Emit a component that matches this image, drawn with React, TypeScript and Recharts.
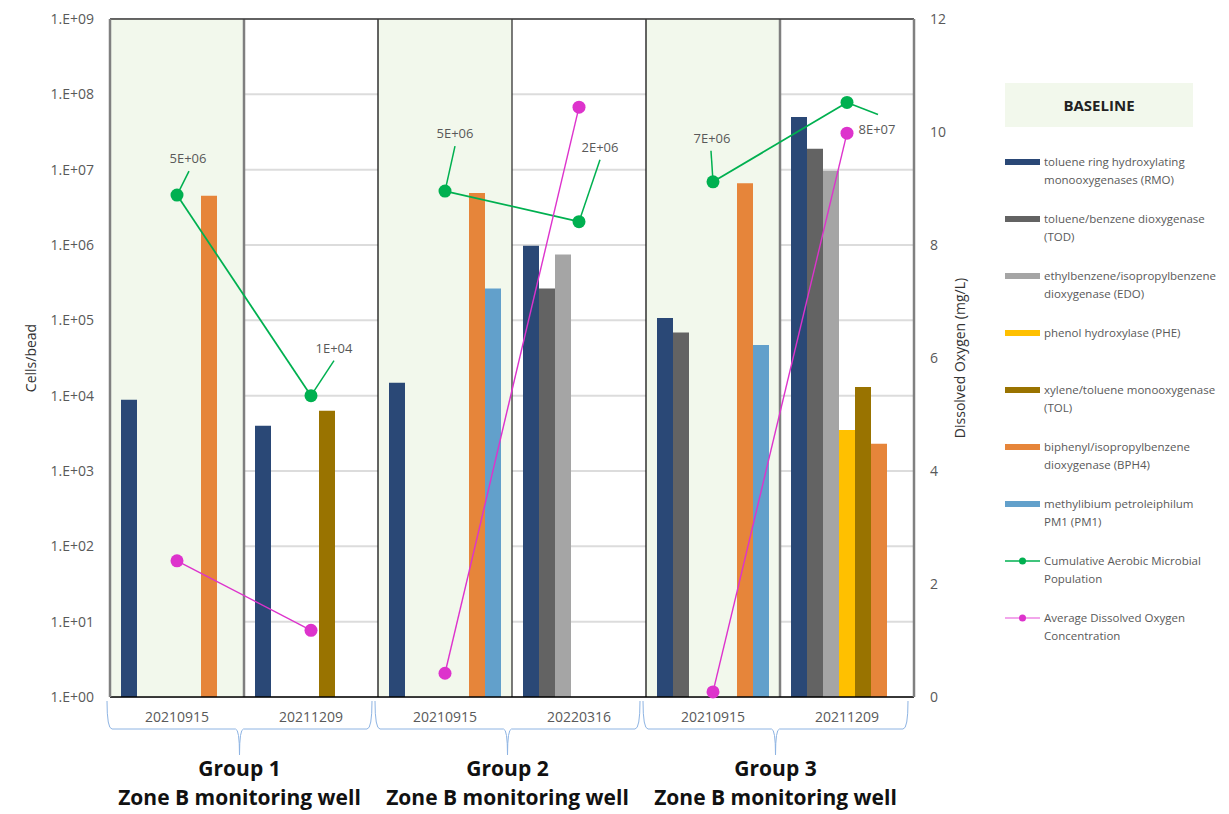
import {
  Bar,
  CartesianGrid,
  ComposedChart,
  LabelList,
  Line,
  ReferenceArea,
  ReferenceLine,
  XAxis,
  YAxis,
} from 'recharts';

const categories = ['g1-20210915', 'g1-20211209', 'g2-20210915', 'g2-20220316', 'g3-20210915', 'g3-20211209'];
const dates = ['20210915', '20211209', '20210915', '20220316', '20210915', '20211209'];
const groupOf = [0, 0, 1, 1, 2, 2];
const groupNames = ['Group 1', 'Group 2', 'Group 3'];
const baselineCats = [0, 2, 4];

// cells/bead
const rmo = [8800, 4000, 14800, 980000, 107000, 50000000];
const tod = [null, null, null, 264000, 69000, 19000000];
const edo = [null, null, null, 750000, null, 9700000];
const phe = [null, null, null, null, null, 3500];
const tol = [null, 6300, null, null, null, 13000];
const bph4 = [4500000, null, 4900000, null, 6600000, 2300];
const pm1 = [null, null, 264000, null, 47000, null];
const cumulative = [4600000, 10000, 5200000, 2040000, 6900000, 78000000];
// mg/L
const dissolvedO2 = [2.41, 1.18, 0.42, 10.44, 0.09, 9.98];

const logTicks = [1, 10, 100, 1e3, 1e4, 1e5, 1e6, 1e7, 1e8, 1e9];
const doTicks = [0, 2, 4, 6, 8, 10, 12];

const FONT = '"Open Sans", "Liberation Sans", sans-serif';
const GREEN = '#00b050';
const MAGENTA = '#dd33cc';
const TEXT = '#595959';

const barSeries = [
  { key: 'rmo', values: rmo, color: '#2a4876', name: ['toluene ring hydroxylating', 'monooxygenases (RMO)'] },
  { key: 'tod', values: tod, color: '#636363', name: ['toluene/benzene dioxygenase', '(TOD)'] },
  { key: 'edo', values: edo, color: '#a5a5a5', name: ['ethylbenzene/isopropylbenzene', 'dioxygenase (EDO)'] },
  { key: 'phe', values: phe, color: '#ffc000', name: ['phenol hydroxylase (PHE)'] },
  { key: 'tol', values: tol, color: '#997300', name: ['xylene/toluene monooxygenase', '(TOL)'] },
  { key: 'bph4', values: bph4, color: '#e6853a', name: ['biphenyl/isopropylbenzene', 'dioxygenase (BPH4)'] },
  { key: 'pm1', values: pm1, color: '#62a0cb', name: ['methylibium petroleiphilum', 'PM1 (PM1)'] },
];

const W = 1229;
const H = 814;
const MARGIN = { top: 19, right: 255, bottom: 0, left: 20 };
const LEFT_AXIS_W = 90;
const RIGHT_AXIS_W = 60;
const X_AXIS_H = 117;
const PLOT_W = W - MARGIN.left - MARGIN.right - LEFT_AXIS_W - RIGHT_AXIS_W;
const BAND = PLOT_W / categories.length;

// leader line end and label centre, relative to each green point
const labelOffsets = [
  { lx: 12, ly: -24, tx: 11, ty: -37 },
  { lx: 23, ly: -35, tx: 23, ty: -48 },
  { lx: 10, ly: -45, tx: 10, ty: -58 },
  { lx: 21, ly: -62, tx: 21, ty: -75 },
  { lx: -2, ly: -31, tx: -1, ty: -44 },
  { lx: 31, ly: 12, tx: 30, ty: 27 },
];

const chartData = categories.map((id, i) => {
  const row: Record<string, any> = { id };
  barSeries.forEach((s) => {
    row[s.key] = s.values[i];
  });
  groupNames.forEach((_g, g) => {
    row[`cum${g}`] = groupOf[i] === g ? cumulative[i] : null;
    row[`do${g}`] = groupOf[i] === g ? dissolvedO2[i] : null;
  });
  return row;
});

const fmtSci = (v: number) => {
  let e = Math.floor(Math.log10(v));
  let m = Math.round(v / Math.pow(10, e));
  if (m === 10) {
    m = 1;
    e += 1;
  }
  return `${m}E+${String(e).padStart(2, '0')}`;
};

const renderCumLabel = (props: any) => {
  const { x, y, value, index } = props;
  if (value == null || x == null || y == null) return null;
  const o = labelOffsets[index];
  return (
    <g>
      <line x1={x} y1={y} x2={x + o.lx} y2={y + o.ly} stroke={GREEN} strokeWidth={1.5} />
      <text x={x + o.tx} y={y + o.ty + 5} textAnchor='middle' fontSize={13} fill={TEXT} fontFamily={FONT}>
        {fmtSci(value)}
      </text>
    </g>
  );
};

const renderDateTick = (props: any) => {
  const { x, y, payload } = props;
  const i = categories.indexOf(payload.value);
  const first = i === 0 || groupOf[i - 1] !== groupOf[i];
  const xl = x - BAND / 2 - 3;
  const xr = x + BAND * 1.5 - 6;
  const mid = (xl + xr) / 2;
  const by = y + 32;
  return (
    <g>
      <text x={x} y={y + 25} textAnchor='middle' fontSize={14} fill={TEXT} fontFamily={FONT}>
        {dates[i]}
      </text>
      {first && (
        <g>
          <path
            d={`M${xl},${y + 4} Q${xl},${by} ${xl + 5},${by} L${mid - 4},${by} Q${mid},${by} ${mid},${y + 58} Q${mid},${by} ${mid + 4},${by} L${xr - 5},${by} Q${xr},${by} ${xr},${y + 4}`}
            fill='none'
            stroke='#8eb4e3'
            strokeWidth={1}
          />
          <text x={mid} y={y + 79} textAnchor='middle' fontSize={21} fontWeight='bold' fill='#111' fontFamily={FONT}>
            {groupNames[groupOf[i]]}
          </text>
          <text x={mid} y={y + 108} textAnchor='middle' fontSize={21} fontWeight='bold' fill='#111' fontFamily={FONT}>
            Zone B monitoring well
          </text>
        </g>
      )}
    </g>
  );
};

const separators = [
  { cat: 1, stroke: '#7f7f7f', width: 2.5 },
  { cat: 2, stroke: '#111', width: 1.3 },
  { cat: 3, stroke: '#333', width: 1.3 },
  { cat: 4, stroke: '#111', width: 1.3 },
  { cat: 5, stroke: '#7f7f7f', width: 2.5 },
];

const legendLines = [
  { name: ['Cumulative Aerobic Microbial', 'Population'], color: GREEN, line: GREEN },
  { name: ['Average Dissolved Oxygen', 'Concentration'], color: MAGENTA, line: '#ee88e4' },
];

const Legend = () => (
  <div style={{ position: 'absolute', left: 1005, top: 83, fontFamily: FONT }}>
    <div
      style={{
        width: 188,
        height: 44,
        background: '#f2f8ec',
        display: 'flex',
        alignItems: 'center',
        justifyContent: 'center',
        fontWeight: 'bold',
        fontSize: 15,
        color: '#222',
      }}
    >
      BASELINE
    </div>
    <div style={{ position: 'absolute', top: 70, left: 0 }}>
      {barSeries.map((s) => (
        <div key={s.key} style={{ display: 'flex', height: 57, alignItems: 'flex-start' }}>
          <div style={{ width: 35, height: 18, display: 'flex', alignItems: 'center' }}>
            <div style={{ width: 35, height: 6, background: s.color }} />
          </div>
          <div style={{ marginLeft: 4, fontSize: 11.5, lineHeight: '18px', color: TEXT, whiteSpace: 'nowrap' }}>
            {s.name.map((n) => (
              <div key={n}>{n}</div>
            ))}
          </div>
        </div>
      ))}
      {legendLines.map((s) => (
        <div key={s.name[0]} style={{ display: 'flex', height: 57, alignItems: 'flex-start' }}>
          <svg width={35} height={18}>
            <line x1={0} y1={9} x2={35} y2={9} stroke={s.line} strokeWidth={1.5} />
            <circle cx={17.5} cy={9} r={3.5} fill={s.color} />
          </svg>
          <div style={{ marginLeft: 4, fontSize: 11.5, lineHeight: '18px', color: TEXT, whiteSpace: 'nowrap' }}>
            {s.name.map((n) => (
              <div key={n}>{n}</div>
            ))}
          </div>
        </div>
      ))}
    </div>
  </div>
);

export default function App() {
  return (
    <div
      style={{
        position: 'absolute',
        left: 0,
        top: 0,
        width: W,
        height: H,
        overflow: 'hidden',
        background: '#fff',
        fontFamily: FONT,
      }}
    >
      <ComposedChart
        width={W}
        height={H}
        data={chartData}
        margin={MARGIN}
        barCategoryGap={11}
        barGap={0}
      >
        {baselineCats.map((c) => (
          <ReferenceArea
            key={`bg-${c}`}
            x1={categories[c]}
            x2={categories[c]}
            yAxisId='left'
            fill='#f2f8ec'
            fillOpacity={1}
            stroke='none'
          />
        ))}
        <CartesianGrid yAxisId='left' vertical={false} stroke='#dcdcdc' strokeWidth={2} />
        <XAxis
          dataKey='id'
          interval={0}
          height={X_AXIS_H}
          tickSize={0}
          tickMargin={0}
          tickLine={false}
          axisLine={{ stroke: '#000', strokeWidth: 1.5 }}
          tick={renderDateTick}
        />
        <YAxis
          yAxisId='left'
          scale='log'
          domain={[1, 1e9]}
          ticks={logTicks}
          allowDataOverflow
          width={LEFT_AXIS_W}
          tickSize={0}
          tickMargin={16}
          tickLine={false}
          axisLine={{ stroke: '#808080', strokeWidth: 2.5 }}
          tickFormatter={(v: number) => `1.E+${String(Math.round(Math.log10(v))).padStart(2, '0')}`}
          tick={{ fill: TEXT, fontSize: 14, fontFamily: FONT }}
          label={{
            value: 'Cells/bead',
            angle: -90,
            position: 'insideLeft',
            offset: 11,
            style: { fill: '#333', fontSize: 14, fontFamily: FONT, textAnchor: 'middle' },
          }}
        />
        <YAxis
          yAxisId='right'
          orientation='right'
          domain={[0, 12]}
          ticks={doTicks}
          width={RIGHT_AXIS_W}
          tickSize={0}
          tickMargin={16}
          tickLine={false}
          axisLine={{ stroke: '#808080', strokeWidth: 2.5 }}
          tick={{ fill: TEXT, fontSize: 14, fontFamily: FONT }}
          label={{
            value: 'Dissolved Oxygen (mg/L)',
            angle: -90,
            position: 'insideRight',
            offset: 14,
            style: { fill: '#333', fontSize: 14, fontFamily: FONT, textAnchor: 'middle' },
          }}
        />
        {separators.map((s) => (
          <ReferenceLine
            key={`sep-${s.cat}`}
            x={categories[s.cat]}
            position='start'
            yAxisId='left'
            stroke={s.stroke}
            strokeWidth={s.width}
          />
        ))}
        <ReferenceLine y={1e9} yAxisId='left' stroke='#3a3a3a' strokeWidth={1.5} />

        {barSeries.map((s) => (
          <Bar key={s.key} dataKey={s.key} yAxisId='left' fill={s.color} isAnimationActive={false} />
        ))}

        {groupNames.map((_g, g) => (
          <Line
            key={`cum${g}`}
            dataKey={`cum${g}`}
            yAxisId='left'
            stroke={GREEN}
            strokeWidth={1.75}
            dot={{ r: 6.5, fill: GREEN, stroke: GREEN, strokeWidth: 0 }}
            activeDot={false}
            isAnimationActive={false}
          >
            <LabelList dataKey={`cum${g}`} content={renderCumLabel} />
          </Line>
        ))}
        {groupNames.map((_g, g) => (
          <Line
            key={`do${g}`}
            dataKey={`do${g}`}
            yAxisId='right'
            stroke={MAGENTA}
            strokeWidth={1.4}
            dot={{ r: 6.5, fill: MAGENTA, stroke: MAGENTA, strokeWidth: 0 }}
            activeDot={false}
            isAnimationActive={false}
          />
        ))}
      </ComposedChart>
      <Legend />
    </div>
  );
}
